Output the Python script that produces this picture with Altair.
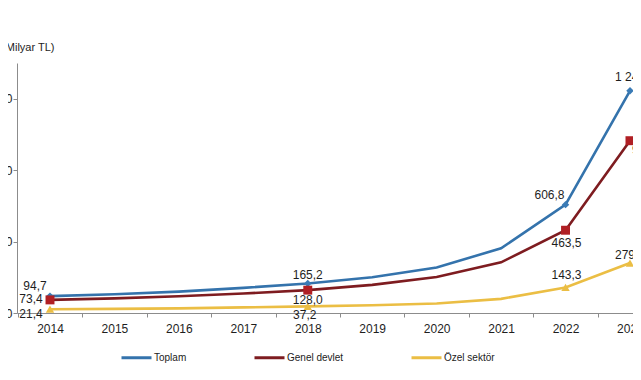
import altair as alt
import pandas as pd
import json

# ---- data ----
years = [2014, 2015, 2016, 2017, 2018, 2019, 2020, 2021, 2022, 2023]
series_names = ["Toplam", "Genel devlet", "Özel sektör"]
toplam = [94.7, 104.6, 119.8, 140.6, 165.2, 200.6, 254.3, 362.7, 606.8, 1244.4]
genel_devlet = [73.4, 81.7, 93.7, 109.3, 128.0, 157.3, 201.5, 283.6, 463.5, 964.9]
ozel_sektor = [21.4, 22.9, 26.1, 31.3, 37.2, 43.3, 52.8, 79.1, 143.3, 279.5]
marked_years = [2014, 2018, 2022, 2023]
y_ticks = [0, 200, 400, 600, 800, 1000, 1200, 1400]
y_title = "(Milyar TL)"

# ---- styles (kept apart from data) ----
line_colors = ["#3473AC", "#7E1C20", "#EBBE44"]
marker_colors = ["#3A7BB6", "#B01F24", "#EBBE44"]
marker_shapes = ["diamond", "square", "triangle-up"]
marker_sizes = [55, 80, 70]
# (dx, dy, align) of each value label
label_place = {
    ("Toplam", 2014): (-15, -10, "center"),
    ("Genel devlet", 2014): (-19, -1, "center"),
    ("Özel sektör", 2014): (-19, 5, "center"),
    ("Toplam", 2018): (0, -9, "center"),
    ("Genel devlet", 2018): (0, 10, "center"),
    ("Özel sektör", 2018): (-3, 9, "center"),
    ("Toplam", 2022): (-16, -10, "center"),
    ("Genel devlet", 2022): (1, 13, "center"),
    ("Özel sektör", 2022): (1, -12, "center"),
    ("Toplam", 2023): (-15, -14, "left"),
    ("Genel devlet", 2023): (2, 9, "left"),
    ("Özel sektör", 2023): (-15, -8, "left"),
}

FONT = "Liberation Sans"


def fmt(v):
    return f"{v:,.1f}".replace(",", " ").replace(".", ",")


rows = []
for name, vals in zip(series_names, [toplam, genel_devlet, ozel_sektor]):
    for yr, v in zip(years, vals):
        rows.append({"series": name, "year": yr, "value": v, "label": fmt(v)})
df = pd.DataFrame(rows)

x_scale = alt.Scale(domain=[2013.488, 2023.047], nice=False, zero=False)
y_scale = alt.Scale(domain=[0, 1400], nice=False)

x_enc = alt.X(
    "year:Q",
    scale=x_scale,
    title=None,
    axis=alt.Axis(
        values=[2013.5 + i for i in range(10)],
        labelExpr="toString(datum.value + 0.5)",
        labelOffset=32.2,
        labelFlush=False,
        labelOverlap=False,
        labelFontSize=12,
        labelPadding=6,
        tickSize=4,
        grid=False,
    ),
)
y_enc = alt.Y(
    "value:Q",
    scale=y_scale,
    title=y_title,
    axis=alt.Axis(
        values=y_ticks,
        format="d",
        grid=False,
        tickSize=4,
        labelFontSize=12,
        labelPadding=1,
        labelOverlap=False,
        labelFlush=False,
        titleAngle=0,
        titleAlign="right",
        titleBaseline="middle",
        titleX=37,
        titleY=-16,
        titleFontSize=11,
        titleFontWeight="normal",
    ),
)

base = alt.Chart(df)

lines = base.mark_line(strokeWidth=2.6).encode(
    x=x_enc,
    y=y_enc,
    color=alt.Color(
        "series:N",
        sort=series_names,
        scale=alt.Scale(domain=series_names, range=line_colors),
        legend=alt.Legend(
            orient="none",
            legendX=103,
            legendY=278,
            direction="horizontal",
            title=None,
            symbolType="stroke",
            symbolSize=900,
            symbolStrokeWidth=3,
            labelFontSize=10,
            labelFont=FONT,
            labelColor="#222222",
            labelOffset=1,
            columnPadding=61,
        ),
    ),
)

marked_js = json.dumps(marked_years)
layers = [lines]
for name, col, shp, sz in zip(series_names, marker_colors, marker_shapes, marker_sizes):
    layers.append(
        base.transform_filter(
            f"datum.series == '{name}' && indexof({marked_js}, datum.year) >= 0"
        )
        .mark_point(shape=shp, filled=True, size=sz, color=col, opacity=1)
        .encode(x="year:Q", y="value:Q")
    )

for (name, yr), (dx, dy, al) in label_place.items():
    layers.append(
        base.transform_filter(f"datum.series == '{name}' && datum.year == {yr}")
        .mark_text(dx=dx, dy=dy, align=al, baseline="middle", fontSize=12, font=FONT, color="#1e1e1e")
        .encode(x="year:Q", y="value:Q", text="label:N")
    )

chart = (
    alt.layer(*layers)
    .properties(
        width=616,
        height=250,
        autosize=alt.AutoSizeParams(type="none"),
        padding={"left": 9, "top": 55, "right": 0, "bottom": 50},
    )
    .configure_view(stroke=None)
    .configure_axis(
        domainColor="#8c8c8c",
        tickColor="#8c8c8c",
        labelColor="#1e1e1e",
        titleColor="#1e1e1e",
        labelFont=FONT,
        titleFont=FONT,
        domainWidth=1,
    )
)

chart.save("out.html", embed_options={"renderer": "svg", "actions": False})
